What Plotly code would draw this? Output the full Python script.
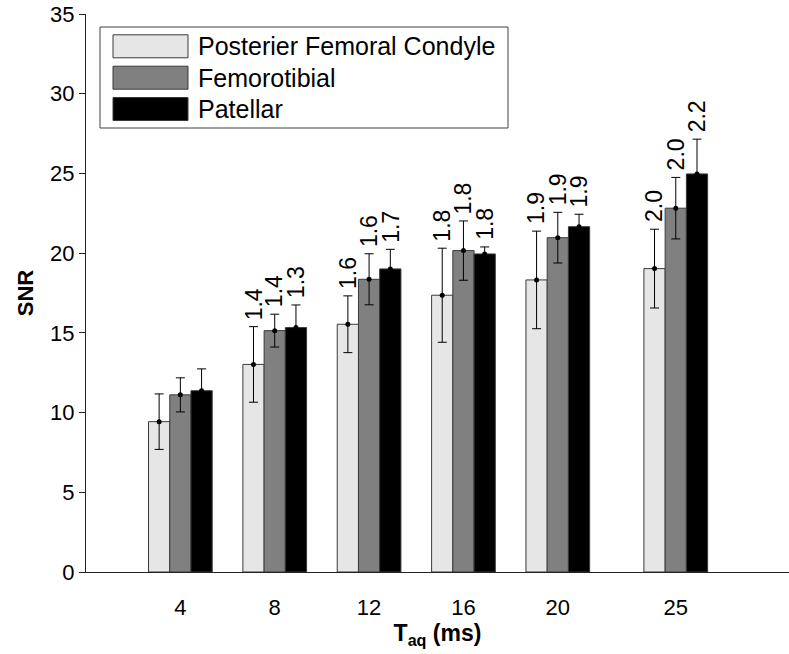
import plotly.graph_objects as go

# Acquisition times (ms) and SNR per region
taq = [4, 8, 12, 16, 20, 25]
series_names = ["Posterier Femoral Condyle", "Femorotibial", "Patellar"]
snr_pfc = [9.43, 13.02, 15.54, 17.36, 18.32, 19.03]
snr_ft = [11.11, 15.14, 18.36, 20.16, 20.97, 22.82]
snr_pat = [11.37, 15.33, 19.01, 19.95, 21.66, 24.97]
sd_pfc = [1.74, 2.37, 1.78, 2.95, 3.06, 2.47]
sd_ft = [1.07, 1.03, 1.60, 1.86, 1.59, 1.93]
sd_pat = [1.37, 1.42, 1.23, 0.44, 0.78, 2.18]
# Rotated labels printed above each bar
lab_pfc = ["", "1.4", "1.6", "1.8", "1.9", "2.0"]
lab_ft = ["", "1.4", "1.6", "1.8", "1.9", "2.0"]
lab_pat = ["", "1.3", "1.7", "1.8", "1.9", "2.2"]

means = [snr_pfc, snr_ft, snr_pat]
sds = [sd_pfc, sd_ft, sd_pat]
labels = [lab_pfc, lab_ft, lab_pat]
fills = ["#e6e6e6", "#808080", "#000000"]

W, H = 789, 654
ML, MR, MT, MB = 86, 0, 14, 82
BAR_W = 0.9
LABEL_GAP = 0.3
FONT = "Liberation Sans, Arial, Helvetica, sans-serif"


def px_x(p):
    return (p - ML) / (W - ML - MR)


def px_y(p):
    return 1 - (p - MT) / (H - MT - MB)


fig = go.Figure()
annotations = []
for i, (m, s, lab, col) in enumerate(zip(means, sds, labels, fills)):
    xs = [x + (i - 1) * BAR_W for x in taq]
    fig.add_trace(go.Bar(
        x=xs, y=m, width=BAR_W, name=series_names[i],
        marker=dict(color=col, line=dict(color="#3a3a3a", width=1)),
        error_y=dict(type="data", array=s, color="black", thickness=1, width=4.5),
        showlegend=False,
    ))
    fig.add_trace(go.Scatter(
        x=xs, y=m, mode="markers",
        marker=dict(color="black", size=5),
        showlegend=False, hoverinfo="skip",
    ))
    for xv, mv, sv, t in zip(xs, m, s, lab):
        if t:
            annotations.append(dict(
                x=xv, y=mv + sv + LABEL_GAP, xref="x", yref="y",
                text=t, textangle=-90, showarrow=False,
                xanchor="center", yanchor="bottom",
                font=dict(family=FONT, size=23, color="black"),
            ))

# Legend drawn as a framed box with large swatches
shapes = [dict(type="rect", xref="paper", yref="paper",
               x0=px_x(100), x1=px_x(508), y0=px_y(128), y1=px_y(27),
               line=dict(color="#404040", width=1), fillcolor="white", layer="above")]
row_centers = [46.3, 77.7, 109.0]
for name, col, yc in zip(series_names, fills, row_centers):
    shapes.append(dict(type="rect", xref="paper", yref="paper",
                       x0=px_x(113), x1=px_x(188), y0=px_y(yc + 11.5), y1=px_y(yc - 11.5),
                       line=dict(color="#3a3a3a", width=1), fillcolor=col, layer="above"))
    annotations.append(dict(x=px_x(196), y=px_y(yc), xref="paper", yref="paper",
                            text=name, showarrow=False, xanchor="left", yanchor="middle",
                            font=dict(family=FONT, size=25, color="black")))

fig.update_layout(
    width=W, height=H,
    margin=dict(l=ML, r=MR, t=MT, b=MB, autoexpand=False),
    paper_bgcolor="white", plot_bgcolor="white",
    barmode="overlay",
    shapes=shapes, annotations=annotations,
    font=dict(family=FONT, color="black"),
    xaxis=dict(
        range=[0, 29.8], tickvals=taq, ticktext=[str(v) for v in taq],
        ticks="", showgrid=False, zeroline=False,
        showline=True, linecolor="#222", linewidth=1,
        tickfont=dict(size=22), ticklabelstandoff=16,
        title=dict(text="<b>T<sub>aq</sub> (ms)</b>", font=dict(size=23), standoff=0),
    ),
    yaxis=dict(
        range=[0, 35], tickvals=[0, 5, 10, 15, 20, 25, 30, 35],
        ticks="outside", ticklen=6, tickwidth=1, tickcolor="#222",
        showgrid=False, zeroline=False,
        showline=True, linecolor="#222", linewidth=1,
        tickfont=dict(size=22),
        title=dict(text="<b>SNR</b>", font=dict(size=22), standoff=10),
    ),
)

fig.write_html("out.html")
